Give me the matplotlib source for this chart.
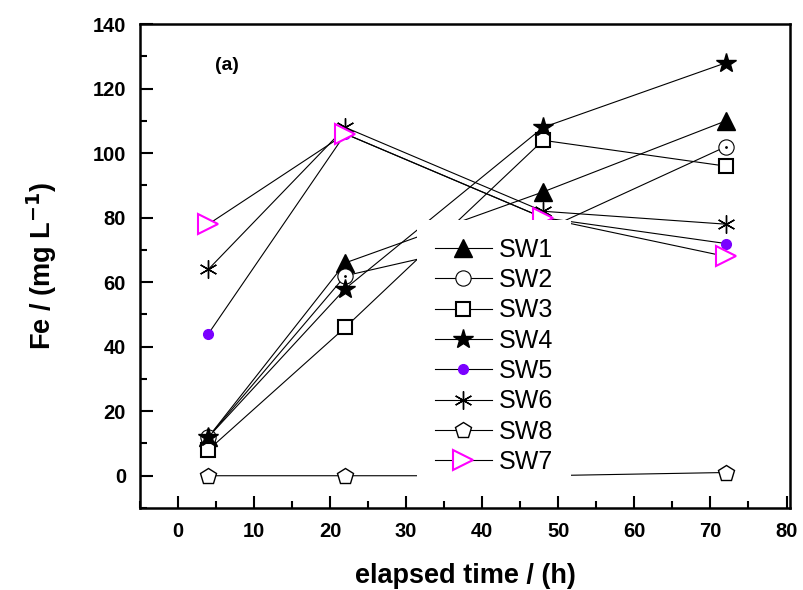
import matplotlib.pyplot as plt
from matplotlib.ticker import MultipleLocator

plt.rcParams['font.family'] = ['Liberation Sans', 'DejaVu Sans']

# elapsed time (h)
hours = [4, 22, 48, 72]

# Fe concentration (mg/L) per sample
sw1 = [12, 66, 88, 110]
sw2 = [12, 62, 76, 102]
sw3 = [8, 46, 104, 96]
sw4 = [12, 58, 108, 128]
sw5 = [44, 106, 80, 72]
sw6 = [64, 108, 82, 78]
sw8 = [0, 0, 0, 1]
sw7 = [78, 106, 80, 68]

fig = plt.figure(figsize=(8.04, 5.90), dpi=100)
ax = fig.add_axes([0.174, 0.139, 0.809, 0.820])

lw = 0.8
ax.plot(hours, sw1, '-', color='black', lw=lw, marker='^', ms=13, mfc='black', mec='black', label='SW1')
ax.plot(hours, sw2, '-', color='black', lw=lw, marker='o', ms=11, mfc='white', mec='black', mew=0.8, label='SW2')
ax.plot(hours, sw2, ' ', marker='.', ms=2, color='black')
ax.plot(hours, sw3, '-', color='black', lw=lw, marker='s', ms=10, mfc='white', mec='black', mew=1.5, label='SW3')
ax.plot(hours, sw4, '-', color='black', lw=lw, marker='*', ms=15, mfc='black', mec='black', label='SW4')
ax.plot(hours, sw5, '-', color='black', lw=lw, marker='o', ms=7, mfc='#7a00ff', mec='#7a00ff', label='SW5')
ax.plot(hours, sw6, '-', color='black', lw=lw, marker=(6, 2, 0), ms=13, mec='black', mew=1.0, label='SW6')
ax.plot(hours, sw8, '-', color='black', lw=lw, marker='p', ms=12, mfc='white', mec='black', mew=1.0, label='SW8')
ax.plot(hours, sw7, '-', color='black', lw=lw, marker='>', ms=15, mfc='white', mec='#ff00ff', mew=1.5, label='SW7')

ax.set_xlim(-5, 80.5)
ax.set_ylim(-10, 140)
ax.xaxis.set_major_locator(MultipleLocator(10))
ax.xaxis.set_minor_locator(MultipleLocator(5))
ax.yaxis.set_major_locator(MultipleLocator(20))
ax.yaxis.set_minor_locator(MultipleLocator(10))
ax.tick_params(which='both', direction='in', width=1.5, top=False, right=False)
ax.tick_params(which='major', length=9, labelsize=14.5, pad=10)
ax.tick_params(which='minor', length=5)
for lab in ax.get_xticklabels() + ax.get_yticklabels():
    lab.set_fontweight('bold')
for sp in ax.spines.values():
    sp.set_linewidth(1.8)

ax.set_xlabel('elapsed time / (h)', fontsize=19.5, fontweight='bold', labelpad=16)
ax.set_ylabel('Fe / (mg L$^{\\mathbf{-1}}$)', fontsize=19.5, fontweight='bold', labelpad=24)
ax.text(0.116, 0.905, '(a)', transform=ax.transAxes, fontsize=14, fontweight='bold')

leg = fig.legend(loc='upper left', bbox_to_anchor=(0.519, 0.6271), fontsize=18,
                 frameon=True, facecolor='white', edgecolor='none', framealpha=1,
                 handlelength=2.28, handletextpad=0.28, labelspacing=0.255,
                 borderpad=0.7, borderaxespad=0, fancybox=False)
leg.set_zorder(5)

fig.savefig('out.png', dpi=100)
